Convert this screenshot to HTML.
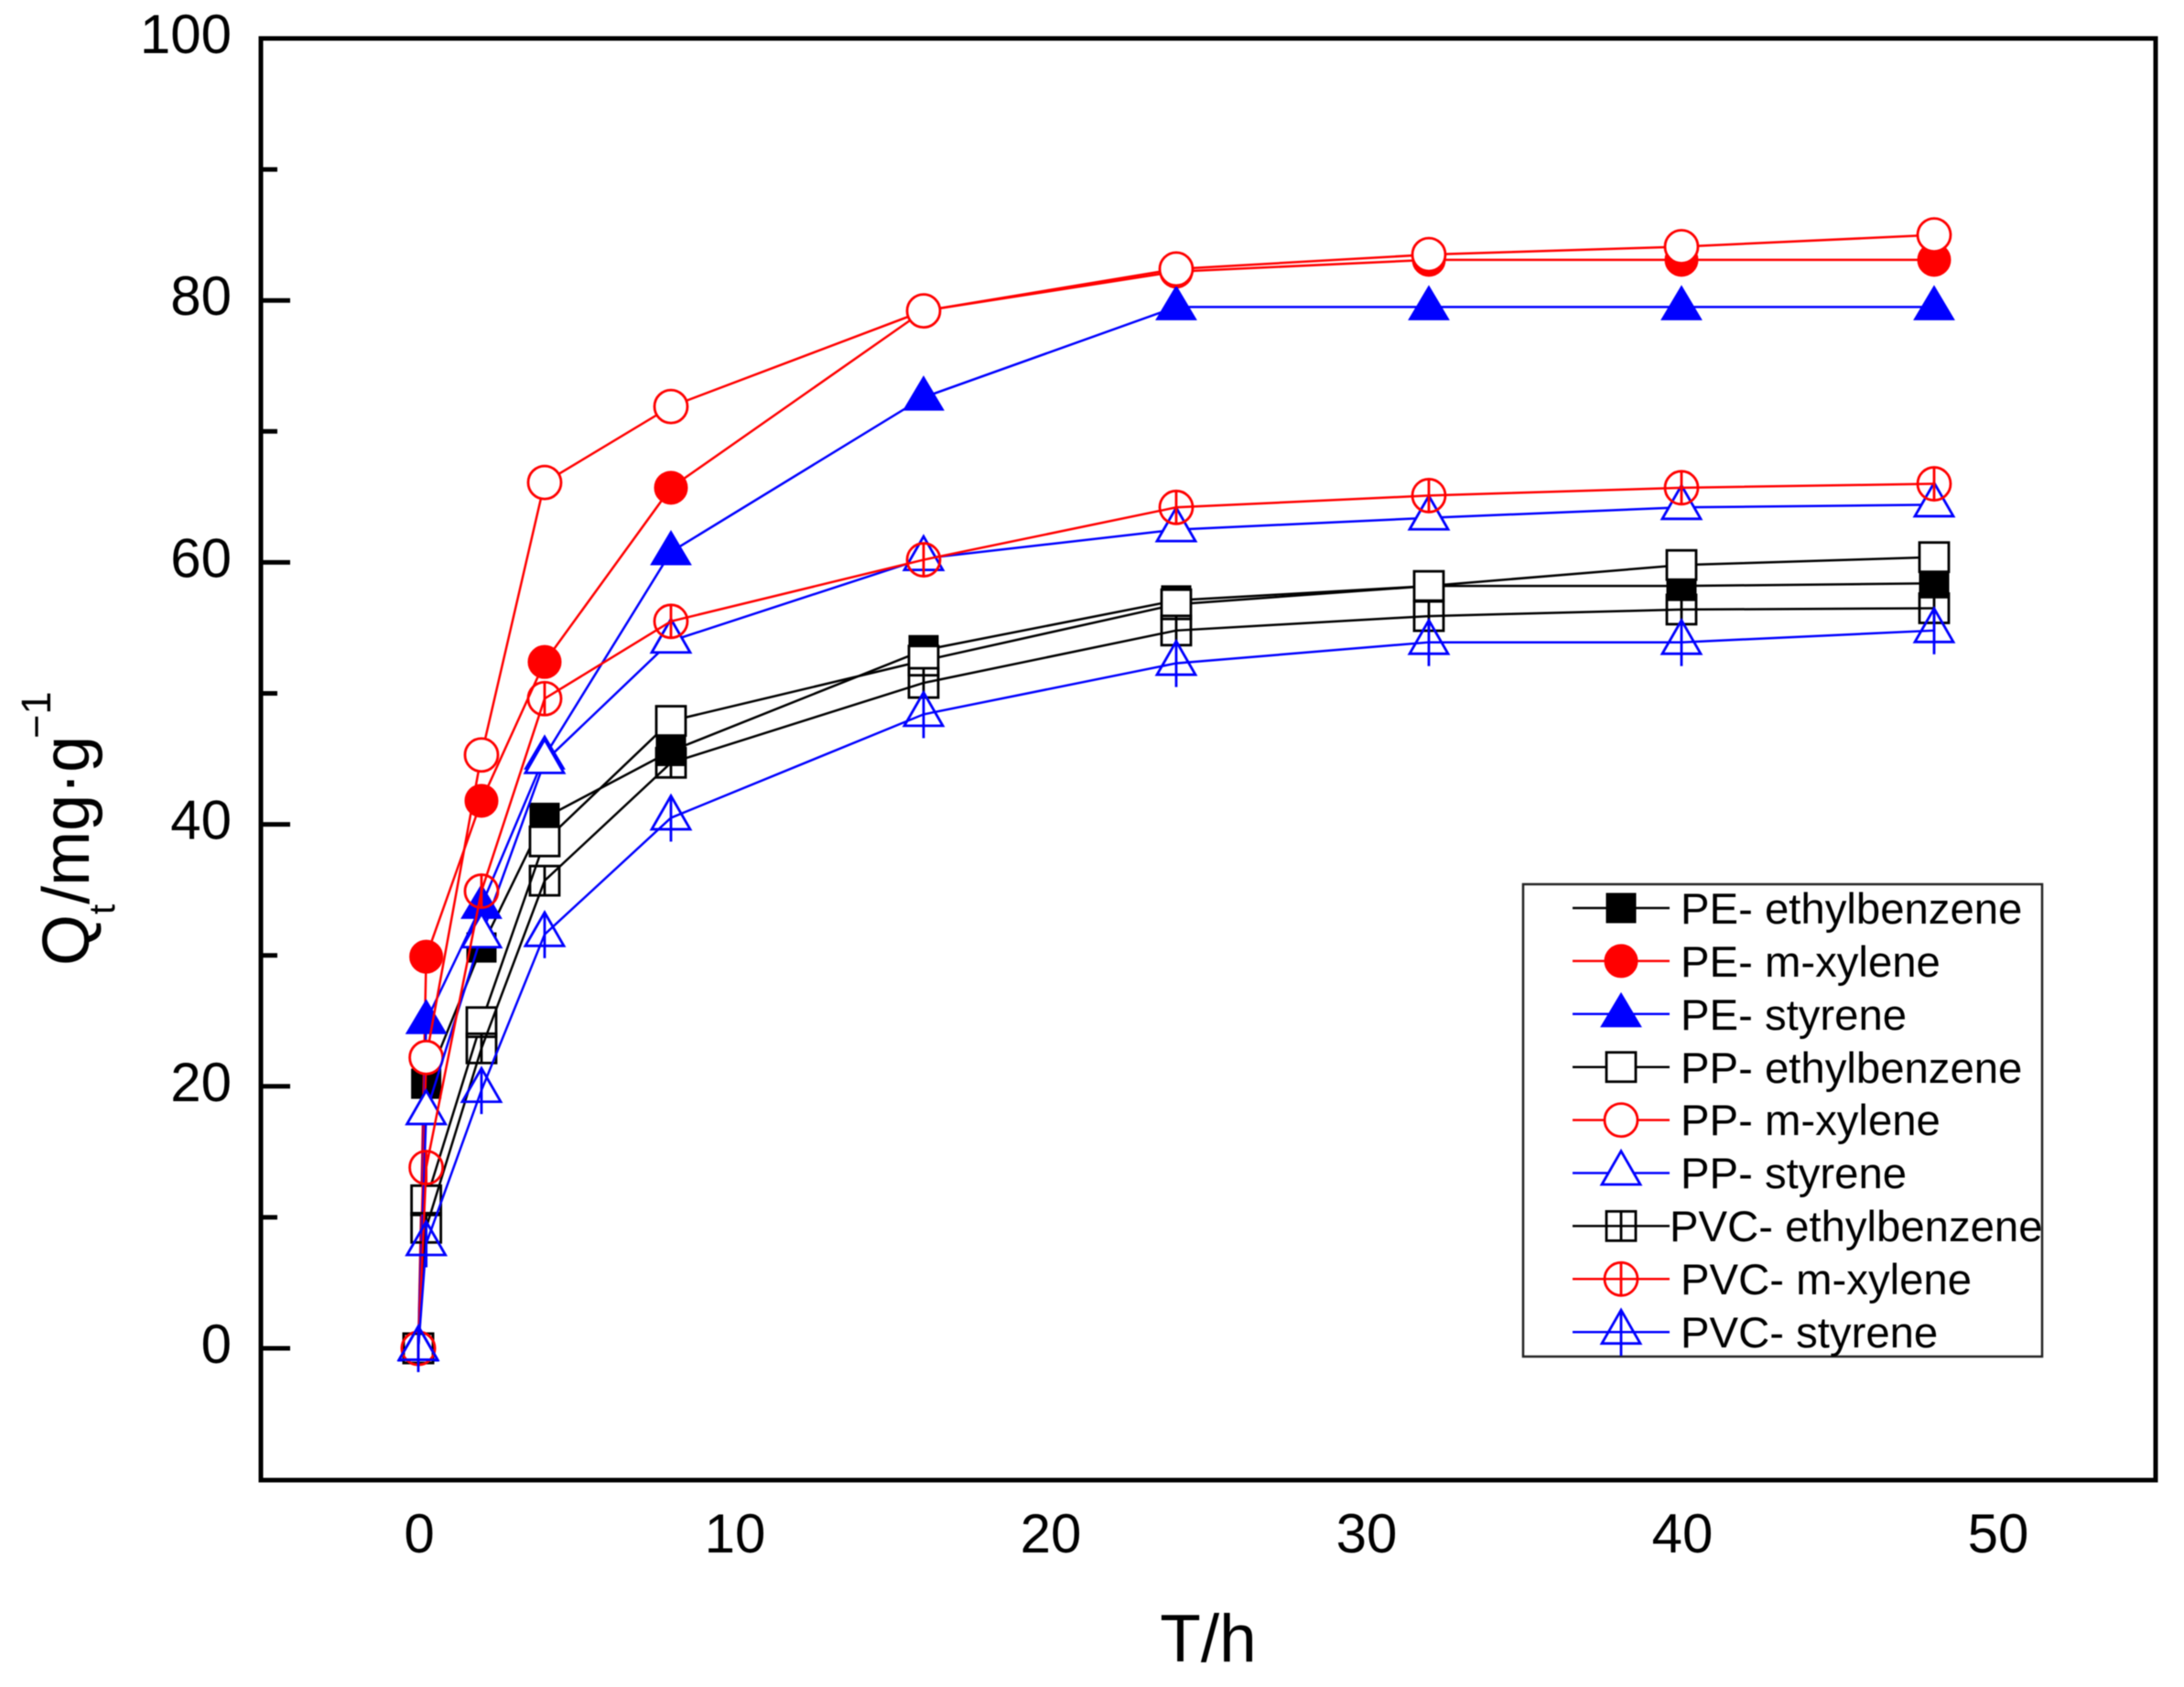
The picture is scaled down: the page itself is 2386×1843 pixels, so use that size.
<!DOCTYPE html>
<html>
<head>
<meta charset="utf-8">
<title>Adsorption kinetics chart</title>
<style>
html,body{margin:0;padding:0;background:#fff;}
svg{display:block;filter:blur(0.5px);}
text{font-family:"Liberation Sans",Arial,sans-serif;fill:#000;}
</style>
</head>
<body>
<svg id="chart" xmlns="http://www.w3.org/2000/svg" width="2386" height="1843" viewBox="0 0 2386 1843">
  <rect x="0" y="0" width="2386" height="1843" fill="#fff"/>
  <g id="series-layer"></g>
  <rect x="285" y="42" width="2070" height="1575" fill="none" stroke="#000" stroke-width="5"/>
  <g id="y-axis"></g>
  <g id="x-axis"></g>
  <text x="1320" y="1815" font-size="73" text-anchor="middle">T/h</text>
  <text transform="translate(97,1055) rotate(-90)" font-size="72">Q<tspan font-size="40" dy="28">t</tspan><tspan dy="-28">/mg·g</tspan><tspan font-size="45" dy="-42" dx="-3">−1</tspan></text>
  <g id="legend">
    <rect x="1664" y="966" width="567" height="516" fill="#fff" stroke="#222" stroke-width="2.5"/>
    <g id="legend-keys"></g>
    <g font-size="47.3">
      <text x="1836" y="1009">PE- ethylbenzene</text>
      <text x="1836" y="1067">PE- m-xylene</text>
      <text x="1836" y="1125">PE- styrene</text>
      <text x="1836" y="1183">PP- ethylbenzene</text>
      <text x="1836" y="1240">PP- m-xylene</text>
      <text x="1836" y="1298">PP- styrene</text>
      <text x="1824" y="1356">PVC- ethylbenzene</text>
      <text x="1836" y="1414">PVC- m-xylene</text>
      <text x="1836" y="1472">PVC- styrene</text>
    </g>
  </g>
</svg>
<script>
const times = [0, 0.25, 2, 4, 8, 16, 24, 32, 40, 48];
const peEthylbenzene = [0, 20.2, 30.6, 40.5, 45.6, 53.3, 57.1, 58.2, 58.2, 58.4];
const peMXylene = [0, 29.9, 41.8, 52.4, 65.7, 79.2, 82.2, 83.1, 83.1, 83.1];
const peStyrene = [0, 25, 33.8, 45.2, 60.8, 72.6, 79.5, 79.5, 79.5, 79.5];
const ppEthylbenzene = [0, 11.3, 24.9, 38.7, 47.9, 52.5, 56.8, 58.2, 59.8, 60.4];
const ppMXylene = [0, 22.2, 45.3, 66.1, 71.9, 79.2, 82.4, 83.5, 84.1, 85];
const ppStyrene = [0, 18, 31.5, 44.8, 54, 60.3, 62.5, 63.4, 64.2, 64.4];
const pvcEthylbenzene = [0, 9.2, 22.9, 35.7, 44.7, 50.8, 54.8, 55.9, 56.4, 56.5];
const pvcMXylene = [0, 13.8, 34.9, 49.6, 55.5, 60.2, 64.2, 65.1, 65.7, 66];
const pvcStyrene = [0, 8, 19.7, 31.6, 40.5, 48.4, 52.3, 53.9, 53.9, 54.8];
const yMajorTicks = [0, 20, 40, 60, 80, 100];
const yMinorTicks = [10, 30, 50, 70, 90];
const xTickLabels = [0, 10, 20, 30, 40, 50];

const NS = 'http://www.w3.org/2000/svg';
const xScale = v => 457 + v * 34.5;
const yScale = v => 1473 - v * 14.31;

const seriesList = [
  {id: 'pe-ethylbenzene', values: peEthylbenzene, color: '#000', shape: 'square', style: 'solid'},
  {id: 'pe-m-xylene', values: peMXylene, color: '#f00', shape: 'circle', style: 'solid'},
  {id: 'pe-styrene', values: peStyrene, color: '#00f', shape: 'triangle', style: 'solid'},
  {id: 'pp-ethylbenzene', values: ppEthylbenzene, color: '#000', shape: 'square', style: 'open'},
  {id: 'pp-m-xylene', values: ppMXylene, color: '#f00', shape: 'circle', style: 'open'},
  {id: 'pp-styrene', values: ppStyrene, color: '#00f', shape: 'triangle', style: 'open'},
  {id: 'pvc-ethylbenzene', values: pvcEthylbenzene, color: '#000', shape: 'square', style: 'cross'},
  {id: 'pvc-m-xylene', values: pvcMXylene, color: '#f00', shape: 'circle', style: 'cross'},
  {id: 'pvc-styrene', values: pvcStyrene, color: '#00f', shape: 'triangle', style: 'cross'}
];

function svgEl(tag, attrs, parent) {
  const el = document.createElementNS(NS, tag);
  for (const k in attrs) el.setAttribute(k, attrs[k]);
  parent.appendChild(el);
  return el;
}

function drawMarker(parent, s, cx, cy) {
  const solid = s.style === 'solid';
  const fill = solid ? s.color : (s.style === 'open' ? '#fff' : 'none');
  const common = {fill: fill, stroke: s.color, 'stroke-width': solid ? 1 : 2.8};
  let mark;
  let top = cy, bottom = cy;
  if (s.shape === 'square') {
    mark = svgEl('rect', Object.assign({x: cx - 16, y: cy - 16, width: 32, height: 32}, common), parent);
    top = cy - 16;
    bottom = cy + 16;
  } else if (s.shape === 'circle') {
    mark = svgEl('circle', Object.assign({cx: cx, cy: cy, r: 18}, common), parent);
    top = cy - 18;
    bottom = cy + 18;
  } else {
    const half = solid ? 22 : 21;
    const down = solid ? 14 : 12.5;
    const up = solid ? 23 : 24;
    const pts = (cx - half) + ',' + (cy + down) + ' ' + (cx + half) + ',' + (cy + down) + ' ' + cx + ',' + (cy - up);
    mark = svgEl('polygon', Object.assign({points: pts}, common), parent);
    top = cy - 24;
    bottom = cy + 26;
  }
  
  
  if (s.style === 'cross') {
    const bar = svgEl('line', {x1: cx, x2: cx, y1: top, y2: bottom, stroke: s.color, 'stroke-width': 2.8}, parent);
    
    
  }
}

const seriesLayer = document.getElementById('series-layer');
seriesList.forEach(s => {
  const group = svgEl('g', {}, seriesLayer);
  
  
  const pts = s.values.map((v, i) => xScale(times[i]) + ',' + yScale(v)).join(' ');
  const line = svgEl('polyline', {points: pts, fill: 'none', stroke: s.color, 'stroke-width': 2.5}, group);
  
  
  s.values.forEach((v, i) => drawMarker(group, s, xScale(times[i]), yScale(v)));
});

const yAxis = document.getElementById('y-axis');
yMajorTicks.forEach(v => {
  if (v !== 100) {
    const tick = svgEl('line', {x1: 285, x2: 317, y1: yScale(v), y2: yScale(v), stroke: '#000', 'stroke-width': 5}, yAxis);
    
    
  }
  const label = svgEl('text', {x: 253, y: yScale(v) + 16, 'font-size': 60, 'text-anchor': 'end'}, yAxis);
  label.textContent = String(v);
  
  
});
yMinorTicks.forEach(v => {
  const tick = svgEl('line', {x1: 285, x2: 303, y1: yScale(v), y2: yScale(v), stroke: '#000', 'stroke-width': 5}, yAxis);
  
  
});

const xAxis = document.getElementById('x-axis');
xTickLabels.forEach(v => {
  const label = svgEl('text', {x: xScale(v) + 1, y: 1696, 'font-size': 60, 'text-anchor': 'middle'}, xAxis);
  label.textContent = String(v);
  
  
});

const legendKeys = document.getElementById('legend-keys');
seriesList.forEach((s, i) => {
  const y = 992 + i * 57.9;
  const group = svgEl('g', {}, legendKeys);
  
  
  const line = svgEl('line', {x1: 1718, x2: 1824, y1: y, y2: y, stroke: s.color, 'stroke-width': 2.5}, group);
  
  
  drawMarker(group, s, 1771, y);
});
</script>
</body>
</html>
